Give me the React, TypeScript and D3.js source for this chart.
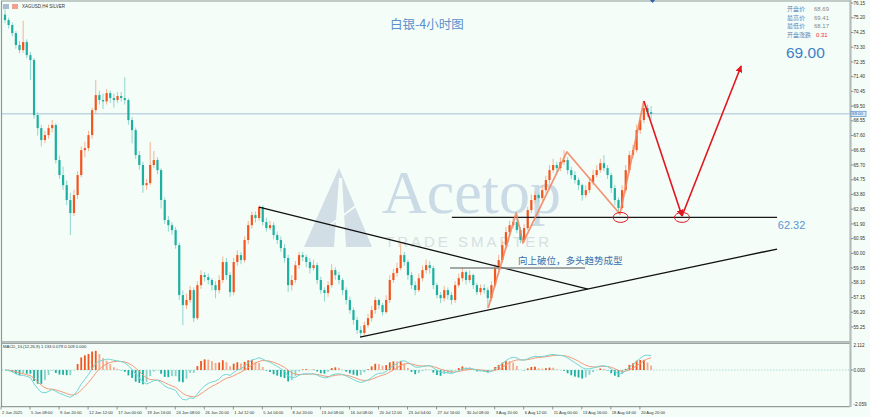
import React from 'react';
import * as d3 from 'd3';

const W = 870;
const H = 417;

// ---------- price data (8h-ish bars) ----------
const firstOpen = 75.4;
const closes = [
  75.05, 74.73, 74.21, 73.44, 73.11, 73.63, 72.79, 72.47, 68.92, 68.08,
  67.31, 67.63, 68.08, 68.28, 66.02, 65.05, 64.40, 63.44, 62.60, 63.76,
  65.05, 66.66, 66.79, 67.63, 69.24, 70.21, 69.89, 69.80, 70.34, 70.02,
  69.89, 70.15, 70.02, 69.89, 68.60, 67.95, 66.34, 65.70, 64.40, 64.53,
  65.70, 66.02, 65.37, 63.44, 62.15, 61.82, 61.50, 60.53, 57.31, 56.66,
  56.99, 57.63, 55.82, 57.95, 58.60, 58.47, 58.28, 57.95, 57.63, 58.28,
  59.44, 58.60, 57.50, 59.44, 59.89, 59.57, 60.86, 61.82, 62.47, 62.28,
  62.99, 62.02, 61.63, 61.82, 61.18, 60.86, 60.34, 59.70, 57.95, 58.28,
  59.24, 59.89, 59.76, 59.44, 59.05, 59.24, 58.28, 57.63, 57.44, 57.95,
  58.92, 58.60, 58.28, 57.63, 56.99, 56.34, 55.70, 55.05, 54.86, 55.37,
  55.82, 56.34, 56.99, 56.66, 56.21, 56.99, 58.28, 58.73, 59.05, 59.89,
  59.44, 58.60, 57.95, 57.63, 58.40, 58.92, 59.24, 59.05, 57.95, 57.31,
  57.11, 57.63, 57.31, 56.99, 57.95, 58.40, 58.79, 58.28, 58.60, 57.95,
  57.50, 57.76, 57.63, 57.11, 57.95, 59.05, 59.57, 60.53, 61.37, 61.82,
  62.02, 61.50, 60.86, 61.63, 62.79, 63.44, 63.76, 63.57, 64.08, 64.73,
  65.37, 65.70, 65.50, 65.89, 66.02, 65.37, 65.05, 64.73, 64.40, 63.76,
  64.08, 64.60, 65.05, 65.37, 65.82, 65.50, 65.05, 64.21, 63.44, 62.92,
  64.08, 65.37, 66.34, 66.66, 67.95, 68.60, 69.37, 69.11, 69.00,
];
const highs = [
  75.75, 75.20, 74.90, 74.35, 73.70, 75.00, 73.80, 73.00, 72.60, 69.10,
  68.30, 67.90, 68.30, 68.60, 68.40, 66.30, 65.60, 64.70, 63.90, 64.10,
  65.30, 66.90, 67.20, 67.90, 69.40, 71.18, 70.50, 70.30, 70.60, 70.50,
  70.30, 70.40, 70.40, 71.37, 70.00, 68.80, 68.10, 66.60, 65.90, 64.80,
  67.18, 66.60, 66.20, 65.50, 63.60, 62.40, 62.00, 61.70, 60.70, 57.60,
  57.40, 57.90, 57.80, 58.20, 58.90, 58.80, 58.70, 58.40, 58.20, 58.60,
  59.80, 59.70, 58.80, 59.70, 60.20, 60.10, 61.10, 62.10, 62.70, 62.70,
  63.10, 63.10, 62.30, 62.10, 62.00, 61.40, 61.10, 60.60, 59.90, 58.60,
  59.50, 60.10, 60.10, 59.90, 59.70, 59.60, 59.40, 58.50, 57.80, 58.20,
  59.30, 59.10, 58.80, 58.40, 57.80, 57.20, 56.50, 55.90, 55.30, 55.60,
  56.10, 56.60, 57.20, 57.10, 56.80, 57.30, 58.60, 59.00, 59.40, 60.66,
  60.10, 59.60, 58.80, 58.20, 58.70, 59.20, 59.60, 59.50, 59.20, 58.10,
  57.50, 57.90, 57.80, 57.50, 58.20, 58.70, 59.10, 58.90, 58.90, 58.70,
  58.10, 58.00, 58.00, 57.80, 58.20, 59.30, 59.90, 60.80, 61.70, 62.10,
  62.30, 62.60, 61.70, 61.90, 63.00, 63.80, 64.00, 63.90, 64.40, 65.00,
  65.70, 66.10, 65.90, 66.20, 66.66, 66.20, 65.60, 65.30, 64.90, 64.50,
  64.40, 64.90, 65.40, 65.70, 66.10, 66.34, 65.70, 65.20, 64.40, 63.60,
  64.40, 65.70, 66.60, 67.00, 68.30, 68.90, 69.82, 69.60, 69.50,
];
const lows = [
  74.85, 74.50, 74.00, 73.20, 72.90, 72.95, 72.60, 71.18, 68.70, 67.60,
  66.90, 67.10, 67.40, 67.80, 65.80, 64.80, 64.10, 63.10, 61.18, 62.40,
  63.50, 64.90, 66.20, 66.60, 67.40, 69.00, 69.60, 69.30, 69.60, 69.70,
  69.40, 69.70, 69.80, 69.60, 68.30, 67.10, 66.10, 65.40, 63.90, 64.10,
  64.40, 65.50, 65.10, 62.90, 61.90, 61.40, 61.20, 60.30, 57.00, 55.37,
  56.40, 56.80, 55.56, 55.70, 57.70, 58.20, 58.00, 57.60, 57.10, 57.40,
  58.10, 58.30, 57.20, 57.30, 59.20, 59.30, 59.40, 60.60, 61.60, 62.00,
  62.10, 61.80, 61.40, 61.50, 60.90, 60.60, 60.10, 59.40, 57.50, 57.60,
  58.10, 59.00, 59.50, 59.10, 58.70, 58.90, 58.00, 57.40, 56.90, 57.20,
  57.80, 58.30, 58.00, 57.30, 56.70, 56.10, 55.40, 54.80, 54.60, 54.70,
  55.20, 55.60, 56.10, 56.40, 56.00, 56.10, 56.80, 58.10, 58.50, 58.90,
  59.20, 58.30, 57.70, 57.30, 57.50, 58.20, 58.70, 58.70, 57.70, 57.10,
  56.80, 56.90, 57.00, 56.70, 56.80, 57.80, 58.20, 58.00, 58.10, 57.70,
  57.30, 57.30, 57.40, 56.47, 56.90, 57.80, 58.90, 59.40, 60.30, 61.10,
  61.60, 61.30, 60.66, 60.70, 61.50, 62.60, 63.20, 63.30, 63.40, 63.90,
  64.50, 65.20, 65.20, 65.30, 65.70, 65.10, 64.80, 64.50, 64.10, 63.40,
  63.60, 63.90, 64.40, 64.90, 65.20, 65.30, 64.80, 63.90, 63.10, 62.53,
  62.80, 63.90, 65.20, 66.10, 66.50, 67.70, 68.40, 68.80, 68.70,
];

// ---------- axis labels ----------
const priceTicks = [
  76.15, 75.2, 74.25, 73.3, 72.35, 71.4, 70.45, 69.5, 68.55, 67.6, 66.65, 65.7,
  64.75, 63.8, 62.85, 61.9, 60.95, 60.0, 59.05, 58.1, 57.15, 56.2, 55.25,
];
const dateLabels = [
  '2 Jun 2025', '5 Jun 08:00', '9 Jun 20:00', '12 Jun 12:00', '17 Jun 00:00',
  '19 Jun 16:00', '24 Jun 08:00', '26 Jun 20:00', '1 Jul 12:00', '5 Jul 04:00',
  '8 Jul 20:00', '13 Jul 08:00', '16 Jul 08:00', '20 Jul 12:00', '23 Jul 04:00',
  '27 Jul 16:00', '30 Jul 08:00', '3 Aug 20:00', '6 Aug 12:00', '11 Aug 00:00',
  '13 Aug 16:00', '18 Aug 04:00', '20 Aug 20:00',
];
const dateLabelBars = dateLabels.map((_, k) => k * 8);

// ---------- info panel ----------
const infoLabels = ['开盘价', '最高价', '最低价', '开盘涨跌'];
const infoValues = ['68.69', '69.41', '68.17', '0.31'];
const lastPrice = 69.0;
const macdMax = 2.112;
const macdMin = -2.059;

// ---------- drawings (bar index, price) ----------
const triUpper: [number, number][] = [[70, 62.99], [160.6, 57.7]];
const triLower: [number, number][] = [[97.8, 54.6], [212.7, 60.28]];
const supportLevel = 62.32;
const supportSpan = [123.1, 212.7];
const breakLevel = 59.06;
const breakSpan = [122.6, 159.8];
const zigzag: [number, number][] = [
  [133.1, 56.48], [140.8, 62.6], [142.7, 60.67], [154.8, 66.54], [169.4, 62.54], [176.0, 69.83],
];
const forecastDown: [number, number][] = [[176.0, 69.83], [186.5, 62.41]];
const forecastUp: [number, number][] = [[186.5, 62.41], [202.8, 72.09]];
const circleBars = [169.6, 186.5];

function ema(arr: number[], n: number) {
  const k = 2 / (n + 1);
  const out: number[] = [];
  let prev = arr[0];
  arr.forEach((v, i) => {
    prev = i === 0 ? v : v * k + prev * (1 - k);
    out.push(prev);
  });
  return out;
}

const BG = '#f4fdf8';
const BULL = '#f2561f';
const BULL_W = '#f7b293';
const BEAR = '#1db0a0';
const BEAR_W = '#8fd7cd';

export default function App() {
  const x = d3.scaleLinear().domain([0, 178]).range([5, 5 + 178 * 3.63]);
  const y = d3.scaleLinear().domain([55.25, 76.15]).range([327, 3]);
  const my = d3.scaleLinear().domain([-3.04, 2.21]).range([406.5, 343.5]);
  const line = d3.line<[number, number]>().x((d) => x(d[0])).y((d) => y(d[1]));

  const opens = closes.map((c, i) => (i === 0 ? firstOpen : closes[i - 1]));
  const e1 = ema(closes, 6);
  const e2 = ema(closes, 13);
  const dif = e1.map((v, i) => v - e2[i]);
  const dea = ema(dif, 5);
  const hist = dif.map((v, i) => 2 * (v - dea[i]));
  const mline = d3.line<number>().x((_, i) => x(i)).y((d) => my(d));

  const axisX = 850;
  const sans = 'Liberation Sans, Arial, sans-serif';
  const cjk = 'Noto Sans CJK SC, sans-serif';

  return (
    <svg width={W} height={H} style={{ position: 'absolute', left: 0, top: 0, background: BG }}>
      <defs>
        <clipPath id="mainClip"><rect x={2} y={1} width={axisX - 2} height={340} /></clipPath>
        <clipPath id="macdClip"><rect x={2} y={344} width={axisX - 2} height={62} /></clipPath>
        <marker id="arr" viewBox="0 0 10 10" refX="9" refY="5" markerWidth="7" markerHeight="7" orient="auto" markerUnits="userSpaceOnUse">
          <path d="M0,0 L10,5 L0,10 z" fill="#e3161f" />
        </marker>
      </defs>
      <rect x={0} y={0} width={W} height={H} fill={BG} />

      {/* watermark */}
      <g opacity={0.85}>
        <polygon points="304,247 339,168 372,247" fill="#cdd9e2" />
        <polygon points="334,247 339,178 342,178 346,247" fill={BG} />
        <line x1={330} y1={225} x2={368} y2={197} stroke={BG} strokeWidth={2} />
        <text x={382} y={213} fontFamily="Liberation Serif, serif" fontSize={62} fill="#c3d6e4">Acetop</text>
        <text x={385} y={247} fontFamily={sans} fontSize={15} letterSpacing={3} fill="#d3dadd">TRADE SMARTER</text>
      </g>

      {/* borders */}
      <line x1={1} y1={1} x2={axisX} y2={1} stroke="#8e9a96" strokeWidth={1.2} />
      <line x1={1.5} y1={1} x2={1.5} y2={407} stroke="#8e9a96" strokeWidth={1.2} />
      <line x1={1} y1={341.8} x2={axisX} y2={341.8} stroke="#9aa4a2" strokeWidth={1.2} />
      <line x1={1} y1={343.4} x2={axisX} y2={343.4} stroke="#9aa4a2" strokeWidth={1.2} />
      <line x1={1} y1={406.7} x2={axisX} y2={406.7} stroke="#7d8886" strokeWidth={1} />
      <line x1={axisX + 0.5} y1={0} x2={axisX + 0.5} y2={407} stroke="#b5bdbb" strokeWidth={2.2} />

      {/* header */}
      <rect x={3} y={4} width={6} height={5} fill="#a9bcd2" />
      <rect x={12} y={4} width={6} height={5} fill="#f0a08c" />
      <text x={22} y={8.3} fontFamily={sans} fontSize={4.5} fill="#333">XAGUSD,H4  SILVER</text>
      <polygon points="650,0 655,0 652.5,3" fill="#2f5fae" />

      {/* title */}
      <text x={390} y={29} fontFamily={cjk} fontSize={12.5} fill="#5a8fcc">白银-4小时图</text>

      {/* info panel */}
      {infoLabels.map((t, i) => (
        <g key={t}>
          <text x={787} y={11 + i * 8.6} fontFamily={cjk} fontSize={6} fill="#5f88b8">{t}</text>
          <text x={i === 3 ? 816 : 814} y={11 + i * 8.6} fontFamily={sans} fontSize={6} fill={i === 3 ? '#ff2a2a' : '#8a8a8a'}>{infoValues[i]}</text>
        </g>
      ))}
      <text x={786} y={58} fontFamily={sans} fontSize={15.5} fill="#3f80c6">{lastPrice.toFixed(2)}</text>

      {/* price axis */}
      {priceTicks.map((t) => (
        <g key={t}>
          <line x1={axisX + 1} x2={axisX + 3.5} y1={y(t)} y2={y(t)} stroke="#555" strokeWidth={0.6} />
          <text x={axisX + 3.5} y={y(t)} dy="0.35em" fontFamily={sans} fontSize={4.6} fill="#333">{t.toFixed(2)}</text>
        </g>
      ))}

      {/* main chart */}
      <g clipPath="url(#mainClip)">
        <line x1={2} x2={axisX} y1={y(lastPrice)} y2={y(lastPrice)} stroke="#a5c2d6" strokeWidth={1} />
        {closes.map((c, i) => {
          const o = opens[i];
          const bull = c >= o;
          const top = y(Math.max(o, c));
          const bot = y(Math.min(o, c));
          return (
            <g key={i}>
              <line x1={x(i)} x2={x(i)} y1={y(highs[i])} y2={y(lows[i])} stroke={bull ? BULL_W : BEAR_W} strokeWidth={1} />
              <rect x={x(i) - 1.1} width={2.2} y={top} height={Math.max(0.8, bot - top)} fill={bull ? BULL : BEAR} />
            </g>
          );
        })}

        {/* triangle */}
        <path d={line(triUpper) || ''} stroke="#111" strokeWidth={1.3} fill="none" />
        <path d={line(triLower) || ''} stroke="#111" strokeWidth={1.3} fill="none" />
        {/* breakout gray line */}
        <line x1={x(breakSpan[0])} x2={x(breakSpan[1])} y1={y(breakLevel)} y2={y(breakLevel)} stroke="#8a8a8a" strokeWidth={1.5} />
        {/* support */}
        <line x1={x(supportSpan[0])} x2={x(supportSpan[1])} y1={y(supportLevel)} y2={y(supportLevel)} stroke="#1a1a1a" strokeWidth={1.2} />
        {/* zigzag */}
        <path d={line(zigzag) || ''} stroke="#f2845e" strokeOpacity={0.85} strokeWidth={1.8} fill="none" strokeLinejoin="round" />
        {/* forecast */}
        <path d={line(forecastDown) || ''} stroke="#e3161f" strokeWidth={1.6} fill="none" markerEnd="url(#arr)" />
        <path d={line(forecastUp) || ''} stroke="#e3161f" strokeWidth={1.6} fill="none" markerEnd="url(#arr)" />
        {circleBars.map((b) => (
          <ellipse key={b} cx={x(b)} cy={y(supportLevel)} rx={7.5} ry={5} fill="none" stroke="#e3161f" strokeWidth={1} />
        ))}
        <text x={x(141.3)} y={y(59.3)} fontFamily={cjk} fontSize={9.5} fill="#3b6eae">向上破位，多头趋势成型</text>
        <text x={x(212.9)} y={y(supportLevel) + 12} fontFamily={sans} fontSize={11} fill="#5b95cf">{supportLevel.toFixed(2)}</text>
      </g>

      {/* last price tag */}
      <rect x={axisX + 1} y={y(lastPrice) - 2.6} width={15} height={5.2} fill="#dce9f6" stroke="#3f80c6" strokeWidth={0.6} />
      <text x={axisX + 2} y={y(lastPrice)} dy="0.35em" fontFamily={sans} fontSize={4.4} fill="#1f5fa8">{lastPrice.toFixed(2)}</text>

      {/* MACD */}
      <text x={3} y={347.5} fontFamily={sans} fontSize={4.2} fill="#333">MACD_DL(12,26,9) 1.133 0.079 0.109 0.000</text>
      <line x1={2} x2={axisX} y1={my(0)} y2={my(0)} stroke="#8fd0cc" strokeWidth={0.7} strokeDasharray="1.5,1.5" />
      <g clipPath="url(#macdClip)">
        {hist.map((h, i) => {
          const prev = i > 0 ? hist[i - 1] : 0;
          const col = h >= 0 ? (h >= prev ? BULL : '#f7a98c') : (h <= prev ? BEAR : '#86d4ca');
          return (
            <rect key={i} x={x(i) - 0.9} width={1.8} y={Math.min(my(0), my(h))} height={Math.abs(my(h) - my(0))} fill={col} />
          );
        })}
        <path d={mline(dea) || ''} stroke="#f39a78" strokeWidth={1} fill="none" />
        <path d={mline(dif) || ''} stroke="#72d6d6" strokeWidth={1} fill="none" />
      </g>
      <line x1={axisX + 1} x2={axisX + 3.5} y1={my(0)} y2={my(0)} stroke="#555" strokeWidth={0.6} />
      <text x={axisX + 3.5} y={345.5} dy="0.35em" fontFamily={sans} fontSize={4.6} fill="#333">{macdMax.toFixed(3)}</text>
      <text x={axisX + 3.5} y={my(0)} dy="0.35em" fontFamily={sans} fontSize={4.6} fill="#333">0.000</text>
      <text x={axisX + 3.5} y={404.5} dy="0.35em" fontFamily={sans} fontSize={4.6} fill="#333">{macdMin.toFixed(3)}</text>

      {/* time axis */}
      {dateLabels.map((t, k) => (
        <g key={t}>
          <line x1={x(dateLabelBars[k]) - 4} x2={x(dateLabelBars[k]) - 4} y1={406.7} y2={409.5} stroke="#555" strokeWidth={0.6} />
          <text x={x(dateLabelBars[k]) - 3} y={413.5} fontFamily={sans} fontSize={4.1} fill="#333">{t}</text>
        </g>
      ))}
    </svg>
  );
}
